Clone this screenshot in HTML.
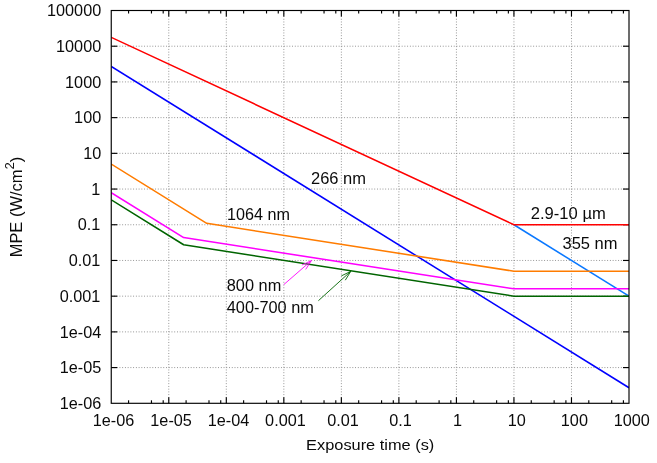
<!DOCTYPE html>
<html><head><meta charset="utf-8"><title>MPE vs exposure time</title>
<style>html,body{margin:0;padding:0;background:#fff;overflow:hidden;}svg{display:block;will-change:transform;}text{font-family:"Liberation Sans",sans-serif;font-size:16px;fill:#0a0a0a;}</style>
</head><body>
<svg width="657" height="463" viewBox="0 0 657 463">
<rect x="0" y="0" width="657" height="463" fill="#ffffff"/>
<g stroke="#8c8c8c" stroke-width="1" stroke-dasharray="0.9,1.84" fill="none">
<line x1="168.78" y1="403.30" x2="168.78" y2="10.50"/>
<line x1="226.31" y1="403.30" x2="226.31" y2="10.50"/>
<line x1="283.83" y1="403.30" x2="283.83" y2="10.50"/>
<line x1="341.36" y1="403.30" x2="341.36" y2="10.50"/>
<line x1="398.89" y1="403.30" x2="398.89" y2="10.50"/>
<line x1="456.42" y1="403.30" x2="456.42" y2="10.50"/>
<line x1="513.94" y1="403.30" x2="513.94" y2="10.50"/>
<line x1="571.47" y1="403.30" x2="571.47" y2="10.50"/>
<line x1="111.25" y1="367.59" x2="629.00" y2="367.59"/>
<line x1="111.25" y1="331.88" x2="629.00" y2="331.88"/>
<line x1="111.25" y1="296.17" x2="629.00" y2="296.17"/>
<line x1="111.25" y1="260.46" x2="629.00" y2="260.46"/>
<line x1="111.25" y1="224.75" x2="629.00" y2="224.75"/>
<line x1="111.25" y1="189.05" x2="629.00" y2="189.05"/>
<line x1="111.25" y1="153.34" x2="629.00" y2="153.34"/>
<line x1="111.25" y1="117.63" x2="629.00" y2="117.63"/>
<line x1="111.25" y1="81.92" x2="629.00" y2="81.92"/>
<line x1="111.25" y1="46.21" x2="629.00" y2="46.21"/>
</g>
<g stroke="#000" stroke-width="1.15" fill="none">
<line x1="128.57" y1="403.30" x2="128.57" y2="400.30"/>
<line x1="128.57" y1="10.50" x2="128.57" y2="13.50"/>
<line x1="151.46" y1="403.30" x2="151.46" y2="400.30"/>
<line x1="151.46" y1="10.50" x2="151.46" y2="13.50"/>
<line x1="163.20" y1="403.30" x2="163.20" y2="400.30"/>
<line x1="163.20" y1="10.50" x2="163.20" y2="13.50"/>
<line x1="168.78" y1="403.30" x2="168.78" y2="397.30"/>
<line x1="168.78" y1="10.50" x2="168.78" y2="16.50"/>
<line x1="186.10" y1="403.30" x2="186.10" y2="400.30"/>
<line x1="186.10" y1="10.50" x2="186.10" y2="13.50"/>
<line x1="208.99" y1="403.30" x2="208.99" y2="400.30"/>
<line x1="208.99" y1="10.50" x2="208.99" y2="13.50"/>
<line x1="220.73" y1="403.30" x2="220.73" y2="400.30"/>
<line x1="220.73" y1="10.50" x2="220.73" y2="13.50"/>
<line x1="226.31" y1="403.30" x2="226.31" y2="397.30"/>
<line x1="226.31" y1="10.50" x2="226.31" y2="16.50"/>
<line x1="243.62" y1="403.30" x2="243.62" y2="400.30"/>
<line x1="243.62" y1="10.50" x2="243.62" y2="13.50"/>
<line x1="266.52" y1="403.30" x2="266.52" y2="400.30"/>
<line x1="266.52" y1="10.50" x2="266.52" y2="13.50"/>
<line x1="278.26" y1="403.30" x2="278.26" y2="400.30"/>
<line x1="278.26" y1="10.50" x2="278.26" y2="13.50"/>
<line x1="283.83" y1="403.30" x2="283.83" y2="397.30"/>
<line x1="283.83" y1="10.50" x2="283.83" y2="16.50"/>
<line x1="301.15" y1="403.30" x2="301.15" y2="400.30"/>
<line x1="301.15" y1="10.50" x2="301.15" y2="13.50"/>
<line x1="324.04" y1="403.30" x2="324.04" y2="400.30"/>
<line x1="324.04" y1="10.50" x2="324.04" y2="13.50"/>
<line x1="335.79" y1="403.30" x2="335.79" y2="400.30"/>
<line x1="335.79" y1="10.50" x2="335.79" y2="13.50"/>
<line x1="341.36" y1="403.30" x2="341.36" y2="397.30"/>
<line x1="341.36" y1="10.50" x2="341.36" y2="16.50"/>
<line x1="358.68" y1="403.30" x2="358.68" y2="400.30"/>
<line x1="358.68" y1="10.50" x2="358.68" y2="13.50"/>
<line x1="381.57" y1="403.30" x2="381.57" y2="400.30"/>
<line x1="381.57" y1="10.50" x2="381.57" y2="13.50"/>
<line x1="393.31" y1="403.30" x2="393.31" y2="400.30"/>
<line x1="393.31" y1="10.50" x2="393.31" y2="13.50"/>
<line x1="398.89" y1="403.30" x2="398.89" y2="397.30"/>
<line x1="398.89" y1="10.50" x2="398.89" y2="16.50"/>
<line x1="416.21" y1="403.30" x2="416.21" y2="400.30"/>
<line x1="416.21" y1="10.50" x2="416.21" y2="13.50"/>
<line x1="439.10" y1="403.30" x2="439.10" y2="400.30"/>
<line x1="439.10" y1="10.50" x2="439.10" y2="13.50"/>
<line x1="450.84" y1="403.30" x2="450.84" y2="400.30"/>
<line x1="450.84" y1="10.50" x2="450.84" y2="13.50"/>
<line x1="456.42" y1="403.30" x2="456.42" y2="397.30"/>
<line x1="456.42" y1="10.50" x2="456.42" y2="16.50"/>
<line x1="473.73" y1="403.30" x2="473.73" y2="400.30"/>
<line x1="473.73" y1="10.50" x2="473.73" y2="13.50"/>
<line x1="496.63" y1="403.30" x2="496.63" y2="400.30"/>
<line x1="496.63" y1="10.50" x2="496.63" y2="13.50"/>
<line x1="508.37" y1="403.30" x2="508.37" y2="400.30"/>
<line x1="508.37" y1="10.50" x2="508.37" y2="13.50"/>
<line x1="513.94" y1="403.30" x2="513.94" y2="397.30"/>
<line x1="513.94" y1="10.50" x2="513.94" y2="16.50"/>
<line x1="531.26" y1="403.30" x2="531.26" y2="400.30"/>
<line x1="531.26" y1="10.50" x2="531.26" y2="13.50"/>
<line x1="554.15" y1="403.30" x2="554.15" y2="400.30"/>
<line x1="554.15" y1="10.50" x2="554.15" y2="13.50"/>
<line x1="565.90" y1="403.30" x2="565.90" y2="400.30"/>
<line x1="565.90" y1="10.50" x2="565.90" y2="13.50"/>
<line x1="571.47" y1="403.30" x2="571.47" y2="397.30"/>
<line x1="571.47" y1="10.50" x2="571.47" y2="16.50"/>
<line x1="588.79" y1="403.30" x2="588.79" y2="400.30"/>
<line x1="588.79" y1="10.50" x2="588.79" y2="13.50"/>
<line x1="611.68" y1="403.30" x2="611.68" y2="400.30"/>
<line x1="611.68" y1="10.50" x2="611.68" y2="13.50"/>
<line x1="623.42" y1="403.30" x2="623.42" y2="400.30"/>
<line x1="623.42" y1="10.50" x2="623.42" y2="13.50"/>
<line x1="111.25" y1="367.59" x2="117.25" y2="367.59"/>
<line x1="629.00" y1="367.59" x2="623.00" y2="367.59"/>
<line x1="111.25" y1="331.88" x2="117.25" y2="331.88"/>
<line x1="629.00" y1="331.88" x2="623.00" y2="331.88"/>
<line x1="111.25" y1="296.17" x2="117.25" y2="296.17"/>
<line x1="629.00" y1="296.17" x2="623.00" y2="296.17"/>
<line x1="111.25" y1="260.46" x2="117.25" y2="260.46"/>
<line x1="629.00" y1="260.46" x2="623.00" y2="260.46"/>
<line x1="111.25" y1="224.75" x2="117.25" y2="224.75"/>
<line x1="629.00" y1="224.75" x2="623.00" y2="224.75"/>
<line x1="111.25" y1="189.05" x2="117.25" y2="189.05"/>
<line x1="629.00" y1="189.05" x2="623.00" y2="189.05"/>
<line x1="111.25" y1="153.34" x2="117.25" y2="153.34"/>
<line x1="629.00" y1="153.34" x2="623.00" y2="153.34"/>
<line x1="111.25" y1="117.63" x2="117.25" y2="117.63"/>
<line x1="629.00" y1="117.63" x2="623.00" y2="117.63"/>
<line x1="111.25" y1="81.92" x2="117.25" y2="81.92"/>
<line x1="629.00" y1="81.92" x2="623.00" y2="81.92"/>
<line x1="111.25" y1="46.21" x2="117.25" y2="46.21"/>
<line x1="629.00" y1="46.21" x2="623.00" y2="46.21"/>
</g>
<clipPath id="c"><rect x="111.25" y="10.50" width="517.75" height="392.80"/></clipPath>
<g clip-path="url(#c)">
<polyline fill="none" stroke="#0a78ff" stroke-width="1.55" stroke-linejoin="round" points="513.94,224.75 629.00,296.17"/>
<polyline fill="none" stroke="#0000ff" stroke-width="1.55" stroke-linejoin="round" points="111.25,66.40 629.00,387.78"/>
<polyline fill="none" stroke="#006400" stroke-width="1.55" stroke-linejoin="round" points="111.25,199.79 183.64,244.73 513.94,296.17 629.00,296.17"/>
<polyline fill="none" stroke="#ff00ff" stroke-width="1.55" stroke-linejoin="round" points="111.25,192.65 183.64,237.58 513.94,288.84 629.00,288.84"/>
<polyline fill="none" stroke="#ff7c00" stroke-width="1.55" stroke-linejoin="round" points="111.25,164.09 206.73,223.35 513.94,271.21 629.00,271.21"/>
<polyline fill="none" stroke="#ff0000" stroke-width="1.55" stroke-linejoin="round" points="111.25,37.35 513.94,224.75 629.00,224.75"/>
</g>
<g stroke="#ff00ff" stroke-width="0.9" fill="none"><line x1="283.8" y1="284.6" x2="311.4" y2="260.6"/><polyline points="301.9,265.0 311.4,260.6 305.7,269.4"/></g>
<g stroke="#006400" stroke-width="0.9" fill="none"><line x1="318.4" y1="300.7" x2="350.8" y2="271.3"/><polyline points="341.4,275.9 350.8,271.3 345.3,280.2"/></g>
<rect x="111.25" y="10.50" width="517.75" height="392.80" stroke="#000" stroke-width="1.15" fill="none"/>
<text transform="translate(113.55,425.80) scale(1.015,1.000)" text-anchor="middle">1e-06</text>
<text transform="translate(171.08,425.80) scale(1.015,1.000)" text-anchor="middle">1e-05</text>
<text transform="translate(228.51,425.80) scale(1.015,1.000)" text-anchor="middle">1e-04</text>
<text transform="translate(285.43,425.80) scale(1.015,1.000)" text-anchor="middle">0.001</text>
<text transform="translate(343.06,425.80) scale(1.015,1.000)" text-anchor="middle">0.01</text>
<text transform="translate(400.59,425.80) scale(1.015,1.000)" text-anchor="middle">0.1</text>
<text transform="translate(457.62,425.80) scale(1.015,1.000)" text-anchor="middle">1</text>
<text transform="translate(516.74,425.80) scale(1.015,1.000)" text-anchor="middle">10</text>
<text transform="translate(574.37,425.80) scale(1.015,1.000)" text-anchor="middle">100</text>
<text transform="translate(631.70,425.80) scale(1.015,1.000)" text-anchor="middle">1000</text>
<text transform="translate(101.20,409.00) scale(1.015,1.000)" text-anchor="end">1e-06</text>
<text transform="translate(101.20,373.29) scale(1.015,1.000)" text-anchor="end">1e-05</text>
<text transform="translate(101.20,337.58) scale(1.015,1.000)" text-anchor="end">1e-04</text>
<text transform="translate(100.30,301.87) scale(1.015,1.000)" text-anchor="end">0.001</text>
<text transform="translate(100.30,266.16) scale(1.015,1.000)" text-anchor="end">0.01</text>
<text transform="translate(100.30,230.45) scale(1.015,1.000)" text-anchor="end">0.1</text>
<text transform="translate(100.30,194.75) scale(1.015,1.000)" text-anchor="end">1</text>
<text transform="translate(101.20,159.04) scale(1.015,1.000)" text-anchor="end">10</text>
<text transform="translate(101.20,123.33) scale(1.015,1.000)" text-anchor="end">100</text>
<text transform="translate(101.20,87.62) scale(1.015,1.000)" text-anchor="end">1000</text>
<text transform="translate(101.20,51.91) scale(1.015,1.000)" text-anchor="end">10000</text>
<text transform="translate(101.20,16.20) scale(1.015,1.000)" text-anchor="end">100000</text>
<text transform="translate(370.20,450.40) scale(1.024,0.970)" text-anchor="middle">Exposure time (s)</text>
<text transform="translate(22,207) rotate(-90) scale(1.03,1.000)" text-anchor="middle">MPE (W/cm<tspan font-size="12.8px" dy="-7.8">2</tspan><tspan dy="7.8">)</tspan></text>
<text transform="translate(311.00,184.00) scale(1.030,1.000)" text-anchor="start">266 nm</text>
<text transform="translate(227.00,219.80) scale(1.010,1.000)" text-anchor="start">1064 nm</text>
<text transform="translate(226.80,290.70) scale(1.020,1.000)" text-anchor="start">800 nm</text>
<text transform="translate(226.80,312.60) scale(1.020,1.000)" text-anchor="start">400-700 nm</text>
<text transform="translate(530.80,219.40) scale(1.037,1.000)" text-anchor="start">2.9-10 µm</text>
<text transform="translate(562.50,249.10) scale(1.032,1.000)" text-anchor="start">355 nm</text>
</svg></body></html>
